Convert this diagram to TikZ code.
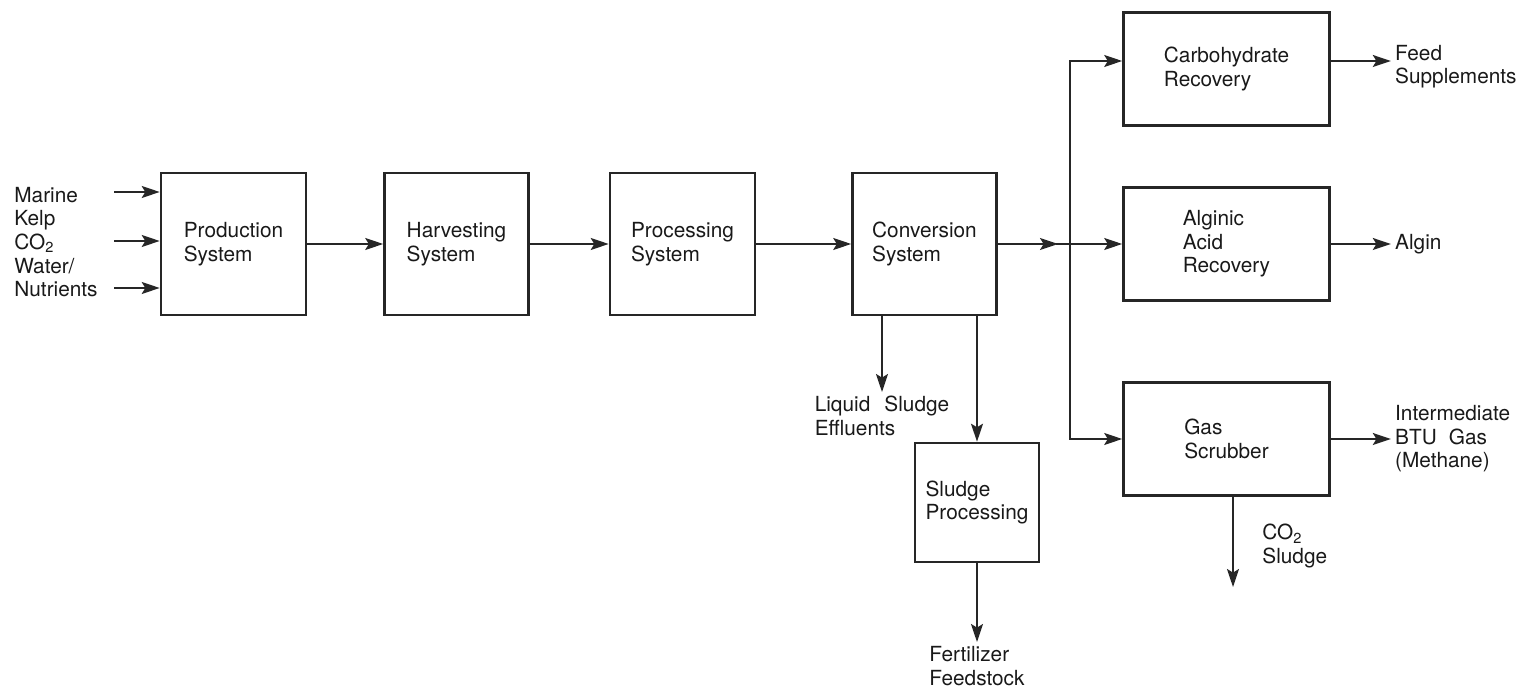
\documentclass[tikz,border=0pt]{standalone}
\usepackage{fontspec}
\setmainfont{TeX Gyre Heros}
\usetikzlibrary{positioning, arrows.meta}

\begin{document}
\begin{tikzpicture}[x=0.5pt,y=-0.5pt,node distance=113pt]
\tikzstyle{every node}=[font=\fontsize{10.4}{11.8}\selectfont, text=black!90]
\tikzstyle{block}=[draw=black!85, line width=1.3pt, align=left, minimum width=72pt, minimum height=71pt, inner sep=2pt]
\tikzstyle{wide}=[block, minimum width=103pt, minimum height=56.5pt]
\tikzstyle{lbl}=[align=left, inner sep=2pt]
\tikzstyle{flow}=[draw=black!85, line width=0.9pt, -{Stealth[length=9pt,width=6pt,inset=1.8pt]}]

\useasboundingbox (0,0) rectangle (1533,694);

\node[block, minimum width=72.5pt] (prod) at (233.5,244) {Production\\System};
\node[block, node distance=111.5pt, right of=prod] (harv) {Harvesting\\System};
\node[block, minimum width=72.5pt, right of=harv] (proc) {Processing\\System};
\node[block, node distance=121pt, right of=proc] (conv) {Conversion\\System};

\node[wide, node distance=151pt, right of=conv] (alg) {Alginic\\Acid\\Recovery};
\node[wide, node distance=87.5pt, above of=alg] (carb) {Carbohydrate\\Recovery};
\node[wide, node distance=97.5pt, below of=alg] (gas) {Gas\\Scrubber};
\node[block, minimum width=62pt, minimum height=59.5pt] (slp) at (977,502.5) {Sludge\\Processing};

\node[lbl, anchor=west] (inp) at (10,242) {Marine\\Kelp\\CO\textsubscript{2}\\Water/\\Nutrients};
\node[lbl, right=30pt of carb.east, yshift=1.2pt] (feed) {Feed\\Supplements};
\node[lbl, right=30pt of alg.east] (algin) {Algin};
\node[lbl, right=30pt of gas.east] (btu) {Intermediate\\BTU\hspace{0.3em} Gas\\(Methane)};
\node[lbl, anchor=north] (liq) at (882,392) {Liquid\hspace{0.4em} Sludge\\Effluents};
\node[lbl, anchor=north] (fert) at (977,642) {Fertilizer\\Feedstock};
\node[lbl, anchor=west] (co2) at (1258,546) {CO\textsubscript{2}\\Sludge};
\coordinate (jn) at (1070,244);
\coordinate (gasout) at (1233,587);

\draw[flow] ([xshift=6pt,yshift=26pt]inp.east |- prod.west) -- ([yshift=26pt]prod.west);
\draw[flow] ([xshift=6pt,yshift=1.5pt]inp.east |- prod.west) -- ([yshift=1.5pt]prod.west);
\draw[flow] ([xshift=6pt,yshift=-22pt]inp.east |- prod.west) -- ([yshift=-22pt]prod.west);

\draw[flow] (prod) -- (harv);
\draw[flow] (harv) -- (proc);
\draw[flow] (proc) -- (conv);
\draw[flow] (conv) -- ([xshift=-6pt]jn);
\draw[flow] ([xshift=-7pt]jn) -- (alg);
\draw[flow] (jn) |- ([yshift=4pt]carb.west);
\draw[flow] (jn) |- (gas);

\draw[flow] (conv.south -| liq.north) -- (liq.north);
\draw[flow] (conv.south -| slp.north) -- (slp.north);
\draw[flow] (slp) -- (fert);

\draw[flow] ([yshift=4pt]carb.east) -- ([yshift=4pt]carb.east -| feed.west);
\draw[flow] (alg) -- (algin);
\draw[flow] (gas) -- (btu);
\draw[flow] (gas.south -| gasout) -- (gasout);
\end{tikzpicture}
\end{document}
